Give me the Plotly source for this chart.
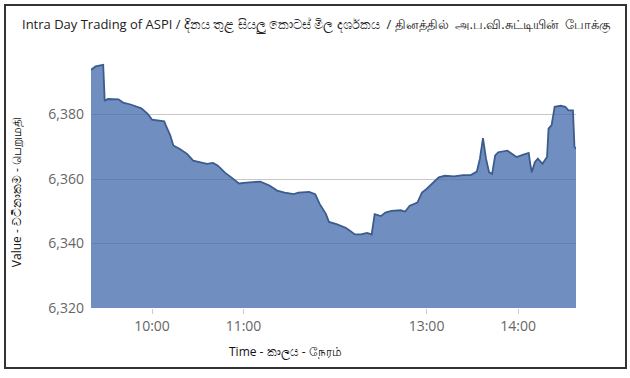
import plotly.graph_objects as go

# Intraday ASPI values (time of day, index value)
times = ["09:20", "09:23", "09:28", "09:29", "09:31", "09:38", "09:41", "09:46", "09:53", "09:57",
         "10:00", "10:08", "10:09", "10:12", "10:14", "10:18", "10:23", "10:27", "10:36", "10:40",
         "10:43", "10:48", "10:52", "10:57", "11:02", "11:11", "11:17", "11:22", "11:27", "11:33",
         "11:36", "11:43", "11:47", "11:50", "11:54", "11:56", "12:01", "12:07", "12:10", "12:13",
         "12:17", "12:21", "12:24", "12:26", "12:30", "12:33", "12:37", "12:43", "12:46", "12:49",
         "12:54", "12:57", "13:00", "13:05", "13:08", "13:12", "13:18", "13:24", "13:29", "13:33",
         "13:35", "13:37", "13:39", "13:41", "13:43", "13:45", "13:47", "13:53", "13:56", "13:59",
         "14:03", "14:07", "14:08", "14:09", "14:11", "14:13", "14:16", "14:19", "14:20", "14:22",
         "14:24", "14:28", "14:31", "14:33", "14:36", "14:37", "14:38"]
values = [6393.8, 6394.9, 6395.4, 6384.2, 6384.8, 6384.7, 6383.7, 6383.1, 6381.9, 6380.3,
          6378.4, 6377.9, 6376.7, 6373.5, 6370.4, 6369.4, 6367.8, 6365.7, 6364.7, 6365.0,
          6364.2, 6361.9, 6360.5, 6358.6, 6358.9, 6359.2, 6358.0, 6356.4, 6355.8, 6355.3,
          6355.8, 6356.0, 6355.3, 6352.2, 6349.2, 6346.7, 6346.0, 6344.9, 6343.9, 6342.8,
          6342.8, 6343.3, 6342.8, 6349.1, 6348.5, 6349.6, 6350.1, 6350.3, 6349.9, 6351.7,
          6352.7, 6355.8, 6356.9, 6359.0, 6360.5, 6361.0, 6360.8, 6361.2, 6361.2, 6362.3,
          6366.3, 6372.7, 6366.3, 6362.1, 6361.6, 6367.3, 6368.3, 6368.8, 6367.8, 6366.8,
          6367.5, 6368.1, 6364.7, 6362.1, 6365.2, 6366.3, 6364.7, 6366.8, 6375.6, 6376.7,
          6382.4, 6382.7, 6382.4, 6381.3, 6381.3, 6370.0, 6369.4]

tick_times = ["10:00", "11:00", "13:00", "14:00"]
y_ticks = [6320, 6340, 6360, 6380, 6400]
y_tick_labels = ["6,320", "6,340", "6,360", "6,380", ""]
y_range = [6320, 6400]

title_text = "Intra Day Trading of ASPI / දිනය තුළ සියලු කොටස් මිල දර්ශකය  / தினத்தில்  அ.ப.வி.சுட்டியின்  போக்கு"
x_title = "Time - කාලය - நேரம்"
y_title = "Value - වටිනාකම - பெறுமதி"

day = "2024-01-02 "
xs = [day + t for t in times]
tickvals = [day + t for t in tick_times]

fig = go.Figure()
fig.add_trace(go.Scatter(
    x=xs, y=values, mode="lines",
    line=dict(color="#3b5c8c", width=1.8),
    fill="tozeroy", fillcolor="rgba(62,104,170,0.74)",
    hoverinfo="x+y", showlegend=False,
))

fig.update_layout(
    width=630, height=378,
    margin=dict(l=91, r=54, t=50, b=70),
    paper_bgcolor="white", plot_bgcolor="white",
    font=dict(family="Open Sans, Noto Sans, sans-serif", color="#666666"),
    xaxis=dict(
        type="date", range=[xs[0], xs[-1]],
        tickvals=tickvals, ticktext=tick_times,
        showgrid=False, zeroline=False, showline=False,
        ticks="outside", ticklen=5, tickcolor="#cccccc",
        tickfont=dict(size=14, color="#666666"),
    ),
    yaxis=dict(
        range=y_range, tickvals=y_ticks, ticktext=y_tick_labels,
        showgrid=True, gridcolor="#c8c8c8", gridwidth=1,
        zeroline=False, showline=False,
        tickfont=dict(size=14, color="#666666"),
        ticklabelstandoff=6,
    ),
    annotations=[
        dict(text=title_text, xref="paper", yref="paper", x=-0.146, y=1.1,
             xanchor="left", yanchor="middle", showarrow=False,
             font=dict(size=13, color="#222222")),
        dict(text=x_title, xref="paper", yref="paper", x=0.4, y=-0.17,
             xanchor="center", yanchor="middle", showarrow=False,
             font=dict(size=12, color="#111111")),
        dict(text=y_title, xref="paper", yref="paper", x=-0.152, y=0.45,
             xanchor="center", yanchor="middle", showarrow=False, textangle=-90,
             font=dict(size=12, color="#111111")),
    ],
    shapes=[
        dict(type="rect", xref="paper", yref="paper",
             x0=-0.1773, x1=1.1031, y0=-0.2326, y1=1.1744,
             line=dict(color="#333333", width=2), fillcolor="rgba(0,0,0,0)", layer="below"),
    ],
)

fig.write_html("out.html")
